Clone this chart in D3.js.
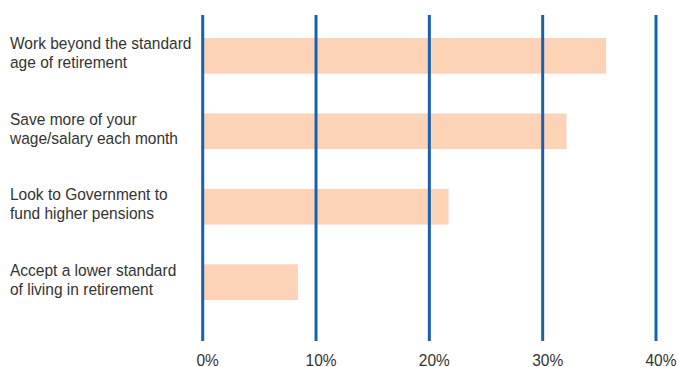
<!DOCTYPE html>
<html>
<head>
<meta charset="utf-8">
<script src="https://cdn.jsdelivr.net/npm/d3@7"></script>
<style>
  body { margin: 0; background: #fff; }
  svg { display: block; }
</style>
</head>
<body>
<div id="chart"></div>
<script>
let w = 678;
let h = 367;

// data
const categories = [
  ["Work beyond the standard", "age of retirement"],
  ["Save more of your", "wage/salary each month"],
  ["Look to Government to", "fund higher pensions"],
  ["Accept a lower standard", "of living in retirement"]
];
const values = [35.6, 32.1, 21.7, 8.4];
const ticks = [0, 10, 20, 30, 40];

const font = "'Liberation Sans', Arial, sans-serif";
const squeeze = 0.94; // the original type is a little condensed

let svg = d3.select("#chart")
  .append("svg")
    .attr("width", w)
    .attr("height", h);

let x = d3.scaleLinear()
  .domain([0, 40])
  .range([202.7, 656]);

let y = d3.scaleBand()
  .domain(d3.range(categories.length))
  .range([11.6, 326.4])
  .paddingInner(0.527)
  .paddingOuter(0.35);

// bars
svg.append("g")
  .selectAll("rect")
  .data(values)
  .join("rect")
    .attr("x", x(0))
    .attr("y", (d, i) => y(i))
    .attr("width", d => x(d) - x(0))
    .attr("height", y.bandwidth())
    .attr("fill", "#fdd3b8");

// vertical grid lines, drawn on top of bars
svg.append("g")
  .selectAll("line")
  .data(ticks)
  .join("line")
    .attr("x1", d => x(d))
    .attr("x2", d => x(d))
    .attr("y1", 15)
    .attr("y2", 341)
    .attr("stroke", "#1862ad")
    .attr("stroke-width", 3);

// tick labels
svg.append("g")
  .selectAll("text")
  .data(ticks)
  .join("text")
    .attr("transform", d => "translate(" + (x(d) + 5) + ",366) scale(" + squeeze + ",1)")
    .attr("text-anchor", "middle")
    .attr("font-family", font)
    .attr("font-size", "16.5px")
    .attr("fill", "#333")
    .text(d => d + "%");

// category labels, two lines each
let labels = svg.append("g")
  .selectAll("text")
  .data(categories)
  .join("text")
    .attr("transform", (d, i) => "translate(10," + (y(i) + y.bandwidth() / 2) + ") scale(" + squeeze + ",1)")
    .attr("font-family", font)
    .attr("font-size", "16.5px")
    .attr("fill", "#333");

labels.append("tspan")
  .attr("x", 0)
  .attr("y", -6.5)
  .text(d => d[0]);

labels.append("tspan")
  .attr("x", 0)
  .attr("y", 12.5)
  .text(d => d[1]);
</script>
</body>
</html>
